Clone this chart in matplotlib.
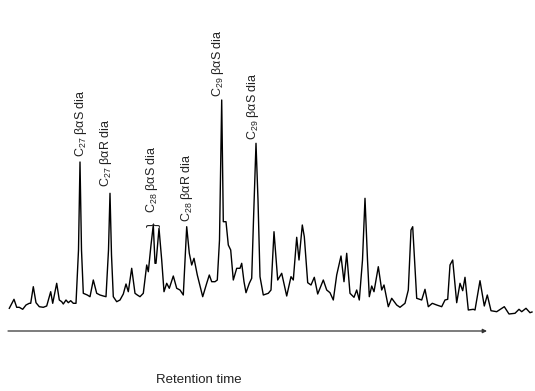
import matplotlib
matplotlib.use("Agg")
import matplotlib.pyplot as plt

plt.rcParams['font.family'] = ['Liberation Sans', 'DejaVu Sans']
plt.rcParams['mathtext.fontset'] = 'custom'
plt.rcParams['mathtext.rm'] = 'Liberation Sans'
plt.rcParams['mathtext.it'] = 'Liberation Sans:italic'

# retention time (arbitrary units) and detector response of the trace
rt = [9.3, 14, 16.7, 19.3, 22.7, 26, 29.3, 30.7, 33.3, 36, 39.3, 43.3, 46.7, 50.7,
      52.7, 56.7, 59.3, 61.7, 63.3, 66, 68.3, 70.7, 73.3, 76, 78.5, 80, 81.5, 83.3,
      87.3, 90, 93.3, 96.7, 100, 103.3, 106, 108.5, 110, 111.5, 113.3, 116.7, 120,
      123.3, 126, 128.3, 131.7, 135, 137.3, 140, 143.3, 146.7, 148.3, 151, 153.3,
      155, 156, 159, 161.7, 164, 166.7, 169.3, 173.3, 176.7, 180, 183.3, 186.7,
      189.3, 191.7, 194, 197.3, 202.7, 206.7, 209.3, 211.7, 215, 217.3, 219.5,
      221.7, 223.3, 226, 228.3, 230.7, 233.3, 236.7, 240, 241.7, 244, 246, 249.3,
      251.7, 253.5, 256, 258, 260, 263.3, 268.3, 271, 274, 277.7, 281.7, 286.7,
      291, 293.3, 296.7, 299, 302.3, 304.3, 307.7, 311, 314.3, 317.7, 323.3,
      326.7, 330, 333.3, 336.7, 341, 344, 346.7, 350, 354, 356.7, 359.3, 362.5,
      365, 367.5, 369.3, 371.7, 374, 378.3, 381.7, 384, 388.3, 391.7, 396.7, 400,
      405, 408.3, 411, 412.7, 416.7, 421.7, 425, 428.3, 432.3, 436.7, 441.7, 445,
      447.7, 450, 452.7, 456.7, 460, 462.7, 465, 468.3, 473.3, 475, 480, 484.3,
      487.3, 491, 496.7, 504.3, 509, 515, 519, 521.7, 526, 530, 532]
response = [6.7, 15.7, 7.7, 7.7, 5.7, 10, 11.7, 11.7, 28.3, 12.3, 8.3, 7.7, 9, 23.3,
            11.7, 31.7, 15, 13.3, 11, 15, 12.3, 14.3, 11.7, 11.7, 65, 153, 65, 21.7,
            20, 18.3, 35, 21.7, 20, 19, 18.3, 65, 121.7, 60, 18.3, 13.3, 15,
            21, 31, 23.3, 46.7, 21.7, 20, 18.3, 21.7, 50, 43.3, 70, 90,
            51.7, 51.7, 86.7, 55, 23.3, 31.7, 26.7, 39, 26.7, 25, 20, 88.3,
            61.7, 50, 56.7, 40, 18.3, 31.7, 40, 33.3, 33.3, 35, 75,
            215, 93.3, 93.3, 70, 65, 35, 46.7, 46.7, 51.7, 33.3, 22.3, 31.7,
            36.7, 95, 171.7, 115, 38.3, 20, 21.7, 25, 83.3, 35, 41.7, 19,
            38.3, 35, 77.7, 55, 90, 78.3, 32.3, 30, 37.7, 21, 35,
            25, 22.3, 15, 40, 59, 33.3, 61.7, 21.7, 17.7, 25, 15, 55,
            116.7, 55, 18.3, 29, 23.3, 48.3, 25, 30, 8.3, 16.7, 10, 7.7,
            11.7, 25, 85, 88.3, 16.7, 15, 25.7, 8.3, 11.7, 10, 8.3, 15,
            15.7, 50, 55, 12.3, 31.7, 24.3, 37.7, 5, 5.7, 5, 34.3, 9,
            20, 4.3, 3.3, 8.3, 1, 1.7, 5.7, 3.3, 6.7, 2.3, 3]

# peak labels: text, retention time, response at the label foot
peak_names = ["C$_{27}$ βαS dia", "C$_{27}$ βαR dia", "C$_{28}$ βαS dia",
              "C$_{28}$ βαR dia", "C$_{29}$ βαS dia", "C$_{29}$ βαS dia"]
peak_rt = [80.7, 106, 151.7, 186.7, 217.5, 252.7]
peak_label_y = [158, 128, 102, 93, 218, 175]

fig = plt.figure(figsize=(5.35, 3.91), dpi=100)
ax = fig.add_axes([0, 0, 1, 1])
ax.set_xlim(0, 535)
ax.set_ylim(315 - 391, 315)
ax.axis('off')

ax.plot(rt, response, color='black', lw=1.0)

for name, x, y in zip(peak_names, peak_rt, peak_label_y):
    ax.text(x, y, name, rotation=90, ha='center', va='bottom',
            fontsize=9, color='#222222')

# brace grouping the C28 doublet
ax.text(153.8, 88, '}', rotation=90, ha='center', va='bottom',
        fontsize=10.5, color='#222222')

# retention time arrow
ax.annotate('', xy=(487, -16), xytext=(8, -16),
            arrowprops=dict(arrowstyle='-|>', color='#333333', lw=0.9,
                            mutation_scale=6, shrinkA=0, shrinkB=0))
ax.text(199, -65, 'Retention time', ha='center', va='center',
        fontsize=9.5, color='#222222')

fig.savefig('out.png', dpi=100)
